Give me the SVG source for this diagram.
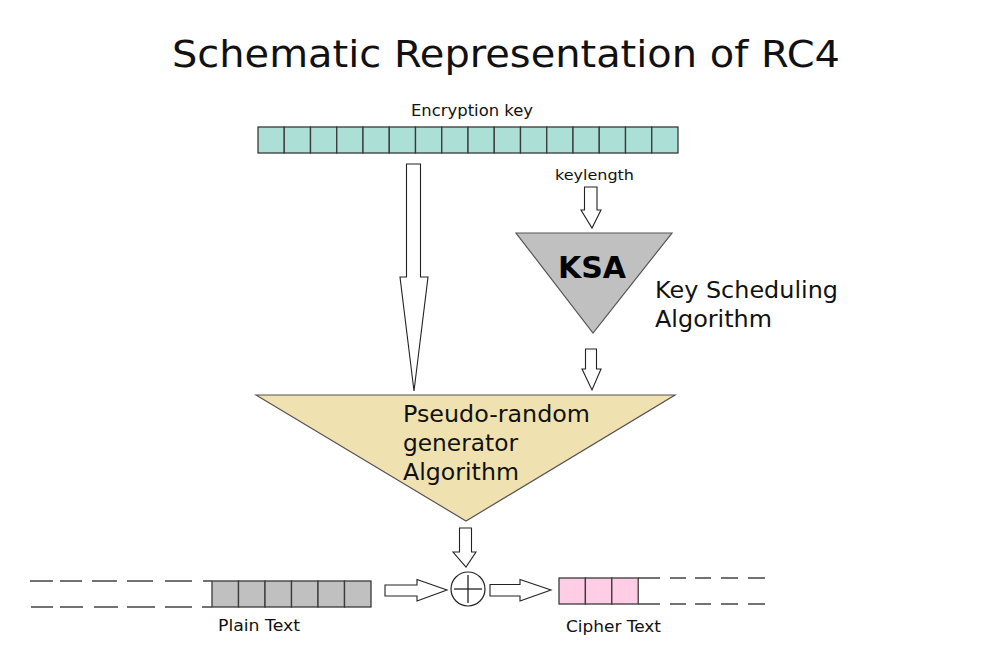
<svg xmlns="http://www.w3.org/2000/svg" width="992" height="645" viewBox="0 0 992 645">
<style>
text{font-family:"DejaVu Sans","Liberation Sans",sans-serif;fill:#111}
.cell{stroke:#3a3a3a;stroke-width:1.3}
.arr{fill:#fff;stroke:#222;stroke-width:1.1;stroke-linejoin:miter}
.dash{stroke:#444;stroke-width:1.3;fill:none}
</style>
<rect width="992" height="645" fill="#fff"/>
<text x="172" y="67" font-size="38" textLength="668" lengthAdjust="spacingAndGlyphs">Schematic Representation of RC4</text>

<g id="key">
<text x="411" y="116" font-size="15" textLength="122" lengthAdjust="spacingAndGlyphs">Encryption key</text>
<g fill="#acdfd5" class="cell">
<rect x="258" y="127" width="26.25" height="26"/><rect x="284.25" y="127" width="26.25" height="26"/><rect x="310.5" y="127" width="26.25" height="26"/><rect x="336.75" y="127" width="26.25" height="26"/>
<rect x="363" y="127" width="26.25" height="26"/><rect x="389.25" y="127" width="26.25" height="26"/><rect x="415.5" y="127" width="26.25" height="26"/><rect x="441.75" y="127" width="26.25" height="26"/>
<rect x="468" y="127" width="26.25" height="26"/><rect x="494.25" y="127" width="26.25" height="26"/><rect x="520.5" y="127" width="26.25" height="26"/><rect x="546.75" y="127" width="26.25" height="26"/>
<rect x="573" y="127" width="26.25" height="26"/><rect x="599.25" y="127" width="26.25" height="26"/><rect x="625.5" y="127" width="26.25" height="26"/><rect x="651.75" y="127" width="26.25" height="26"/>
</g>
</g>

<g id="ksa">
<polygon points="516,233 672,233 593,333" fill="#c0c0c0" stroke="#555" stroke-width="1.2"/>
<text x="592" y="278" font-size="30" font-weight="bold" text-anchor="middle" style="fill:#000">KSA</text>
<text x="655" y="298" font-size="23.5" textLength="183" lengthAdjust="spacingAndGlyphs">Key Scheduling</text>
<text x="655" y="327" font-size="23.5" textLength="117" lengthAdjust="spacingAndGlyphs">Algorithm</text>
</g>

<g id="prga">
<polygon points="256,395 675,395 466,521" fill="#f0e2b0" stroke="#555" stroke-width="1.2"/>
<text x="403" y="422" font-size="23" textLength="187" lengthAdjust="spacingAndGlyphs">Pseudo-random</text>
<text x="403" y="451" font-size="23" textLength="115" lengthAdjust="spacingAndGlyphs">generator</text>
<text x="403" y="480" font-size="23" textLength="116" lengthAdjust="spacingAndGlyphs">Algorithm</text>
</g>

<g id="xor">
<circle cx="468" cy="589" r="17" fill="#fff" stroke="#222" stroke-width="1.2"/>
<line x1="454" y1="589" x2="482" y2="589" stroke="#222" stroke-width="1.3"/>
<line x1="468" y1="575" x2="468" y2="603" stroke="#222" stroke-width="1.3"/>
</g>

<g id="plain">
<g fill="#c0c0c0" class="cell">
<rect x="212" y="581" width="26.5" height="26"/><rect x="238.5" y="581" width="26.5" height="26"/><rect x="265" y="581" width="26.5" height="26"/>
<rect x="291.5" y="581" width="26.5" height="26"/><rect x="318" y="581" width="26.5" height="26"/><rect x="344.5" y="581" width="26.5" height="26"/>
</g>
<path class="dash" d="M30 581H53M60 581H82M92 581H117M127 581H153M165 581H192M203 581H212M31 607H53M60 607H83M94 607H118M127 607H155M165 607H192M202 607H212"/>
<text x="218" y="631" font-size="15" textLength="82" lengthAdjust="spacingAndGlyphs">Plain Text</text>
</g>

<g id="cipher">
<g fill="#ffcde6" class="cell">
<rect x="559" y="578" width="26.4" height="26"/><rect x="585.4" y="578" width="26.4" height="26"/><rect x="611.8" y="578" width="26.4" height="26"/>
</g>
<path class="dash" d="M638 578H660M638 604H660M670 578H686M695 578H711M721 578H738M748 578H765M670 604H686M695 604H711M721 604H738M748 604H765"/>
<text x="566" y="632" font-size="15" textLength="95" lengthAdjust="spacingAndGlyphs">Cipher Text</text>
</g>

<g id="connectors">
<text x="555" y="180" font-size="14" textLength="79" lengthAdjust="spacingAndGlyphs">keylength</text>
<polygon class="arr" points="406.5,164 420.5,164 420.5,277 428,277 414,391 400,277 406.5,277"/>
<polygon class="arr" points="584.5,187 597,187 597,210 601,210 592,228 581,210 584.5,210"/>
<polygon class="arr" points="585.5,349 596.5,349 596.5,369 601,369 592,390 582,369 585.5,369"/>
<polygon class="arr" points="459.5,528 471.5,528 471.5,552 476,552 466,567 453,552 459.5,552"/>
<polygon class="arr" points="385,585 417,585 417,579.5 447,590 417,601 417,596 385,596"/>
<polygon class="arr" points="490,584.5 520,584.5 520,579.5 551,590 520,601 520,596 490,596"/>
</g>
</svg>
